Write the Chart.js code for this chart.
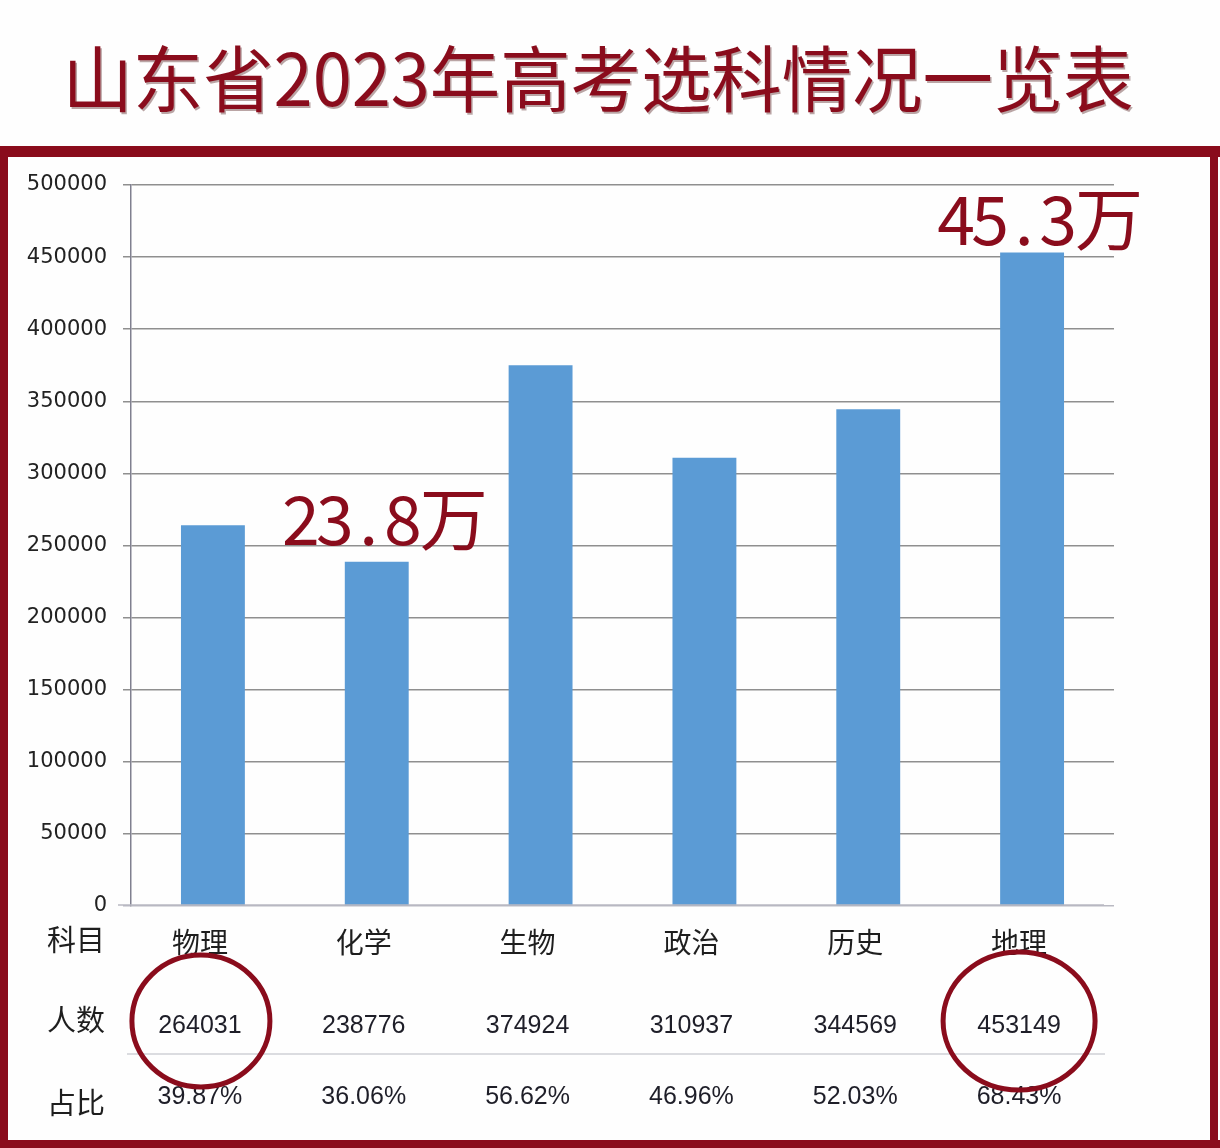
<!DOCTYPE html>
<html>
<head>
<meta charset="utf-8">
<script src="https://cdn.jsdelivr.net/npm/chart.js@4.4.0/dist/chart.umd.min.js"></script>
<style>
  html, body { margin: 0; padding: 0; background: #fff; }
  canvas { display: block; }
</style>
</head>
<body>
<canvas id="chart" width="1220" height="1148" style="width:1220px;height:1148px"></canvas>
<script>
// ---------- data ----------
const title = "山东省2023年高考选科情况一览表";
const subjects = ["物理", "化学", "生物", "政治", "历史", "地理"];
const counts = [264031, 238776, 374924, 310937, 344569, 453149];
const shares = ["39.87%", "36.06%", "56.62%", "46.96%", "52.03%", "68.43%"];
const rowNames = ["科目", "人数", "占比"];
const circled = [0, 5];
const noteIndex = [1, 5];
const noteText = ["23.8万", "45.3万"];

// ---------- style ----------
const RED = "#8a0c1c";
const CJK = '"Noto Sans CJK SC", "Noto Sans", sans-serif';
const colShift = -13; // table columns sit a bit left of the bars
const noteLift = [17, 8];

function drawMono(ctx, text, left, baseline, size) {
  // ascii half width, CJK full width
  let x = left;
  for (const ch of text) {
    const w = ch.charCodeAt(0) < 128 ? size * 0.5 : size;
    ctx.fillText(ch, x + w / 2, baseline);
    x += w;
  }
}

const decor = {
  id: "decor",
  beforeDraw(chart) {
    const ctx = chart.ctx;
    ctx.save();
    ctx.fillStyle = "#fefefe";
    ctx.fillRect(0, 0, chart.width, chart.height);
    ctx.restore();
  },
  afterDraw(chart) {
    const ctx = chart.ctx;
    const x = chart.scales.x;
    const y = chart.scales.y;
    ctx.save();

    // title
    ctx.fillStyle = RED;
    ctx.font = "72px " + CJK;
    ctx.textAlign = "center";
    ctx.textBaseline = "middle";
    const tw = ctx.measureText(title).width;
    ctx.save();
    ctx.translate(598, 79);
    ctx.scale(1071 / tw, 1);
    ctx.shadowColor = "rgba(60,0,0,0.35)";
    ctx.shadowOffsetX = 1.5;
    ctx.shadowOffsetY = 1.5;
    ctx.fillText(title, 0, 0);
    ctx.restore();

    // frame
    ctx.fillStyle = RED;
    ctx.fillRect(0, 146, chart.width, 11);
    ctx.fillRect(0, 146, 8, chart.height - 146);
    ctx.fillRect(1210, 146, 8, chart.height - 146);
    ctx.fillRect(0, 1140, chart.width, 8);

    // x axis line
    ctx.strokeStyle = "#b9b9c2";
    ctx.lineWidth = 1.5;
    ctx.beginPath();
    ctx.moveTo(118, y.getPixelForValue(0) - 1);
    ctx.lineTo(1104, y.getPixelForValue(0) - 1);
    ctx.stroke();

    // table separator
    ctx.strokeStyle = "#cfd0d6";
    ctx.beginPath();
    ctx.moveTo(127, 1054);
    ctx.lineTo(1105, 1054);
    ctx.stroke();

    // row headers
    ctx.fillStyle = "#1e1e1e";
    ctx.font = "29px " + CJK;
    ctx.textAlign = "center";
    ctx.textBaseline = "middle";
    [940, 1020, 1103].forEach((ry, k) => ctx.fillText(rowNames[k], 76, ry));

    // table values
    ctx.font = '25px "Liberation Sans", Arial, sans-serif';
    ctx.fillStyle = "#1e1e28";
    subjects.forEach((s, i) => {
      const cx = x.getPixelForValue(i) + colShift;
      ctx.fillText(String(counts[i]), cx, 1026);
      ctx.fillText(shares[i], cx, 1097);
    });

    // circles
    ctx.strokeStyle = RED;
    ctx.lineWidth = 5;
    const radii = [[69, 66], [76, 69]];
    circled.forEach((i, k) => {
      const cx = x.getPixelForValue(i) + colShift + (k === 0 ? 1 : 0);
      ctx.beginPath();
      ctx.ellipse(cx, 1021, radii[k][0], radii[k][1], 0, 0, Math.PI * 2);
      ctx.stroke();
    });

    // notes above bars
    ctx.fillStyle = RED;
    ctx.font = "68px " + CJK;
    ctx.textAlign = "center";
    ctx.textBaseline = "alphabetic";
    noteIndex.forEach((i, k) => {
      const left = x.getPixelForValue(i) - 93;
      const base = y.getPixelForValue(counts[i]) - noteLift[k];
      drawMono(ctx, noteText[k], left, base, 68);
    });

    ctx.restore();
  }
};

new Chart(document.getElementById("chart"), {
  type: "bar",
  data: {
    labels: subjects,
    datasets: [{
      data: counts,
      backgroundColor: "#5b9bd5",
      borderWidth: 0,
      barPercentage: 0.39,
      categoryPercentage: 1.0
    }]
  },
  options: {
    responsive: false,
    animation: false,
    layout: { padding: { top: 185, right: 106, left: 0, bottom: 0 } },
    plugins: {
      legend: { display: false },
      tooltip: { enabled: false }
    },
    scales: {
      x: {
        grid: { display: false, drawTicks: false },
        border: { display: false },
        ticks: {
          font: { family: CJK, size: 28 },
          color: "#1e1e1e",
          padding: 20,
          labelOffset: colShift,
          maxRotation: 0,
          autoSkip: false
        },
        afterFit(s) { s.height = 242; }
      },
      y: {
        min: 0,
        max: 500000,
        ticks: {
          stepSize: 50000,
          callback: (v) => String(v),
          font: { family: '"DejaVu Sans", sans-serif', size: 21 },
          color: "#222",
          padding: 16
        },
        grid: {
          color: (c) => (c.tick && c.tick.value === 0 ? "#b9b9c2" : "#8f8f8f"),
          lineWidth: 1.5,
          tickLength: 8
        },
        border: { color: "#80808f", width: 1.5 },
        afterFit(s) { s.width = 131; }
      }
    }
  },
  plugins: [decor]
});
</script>
</body>
</html>
